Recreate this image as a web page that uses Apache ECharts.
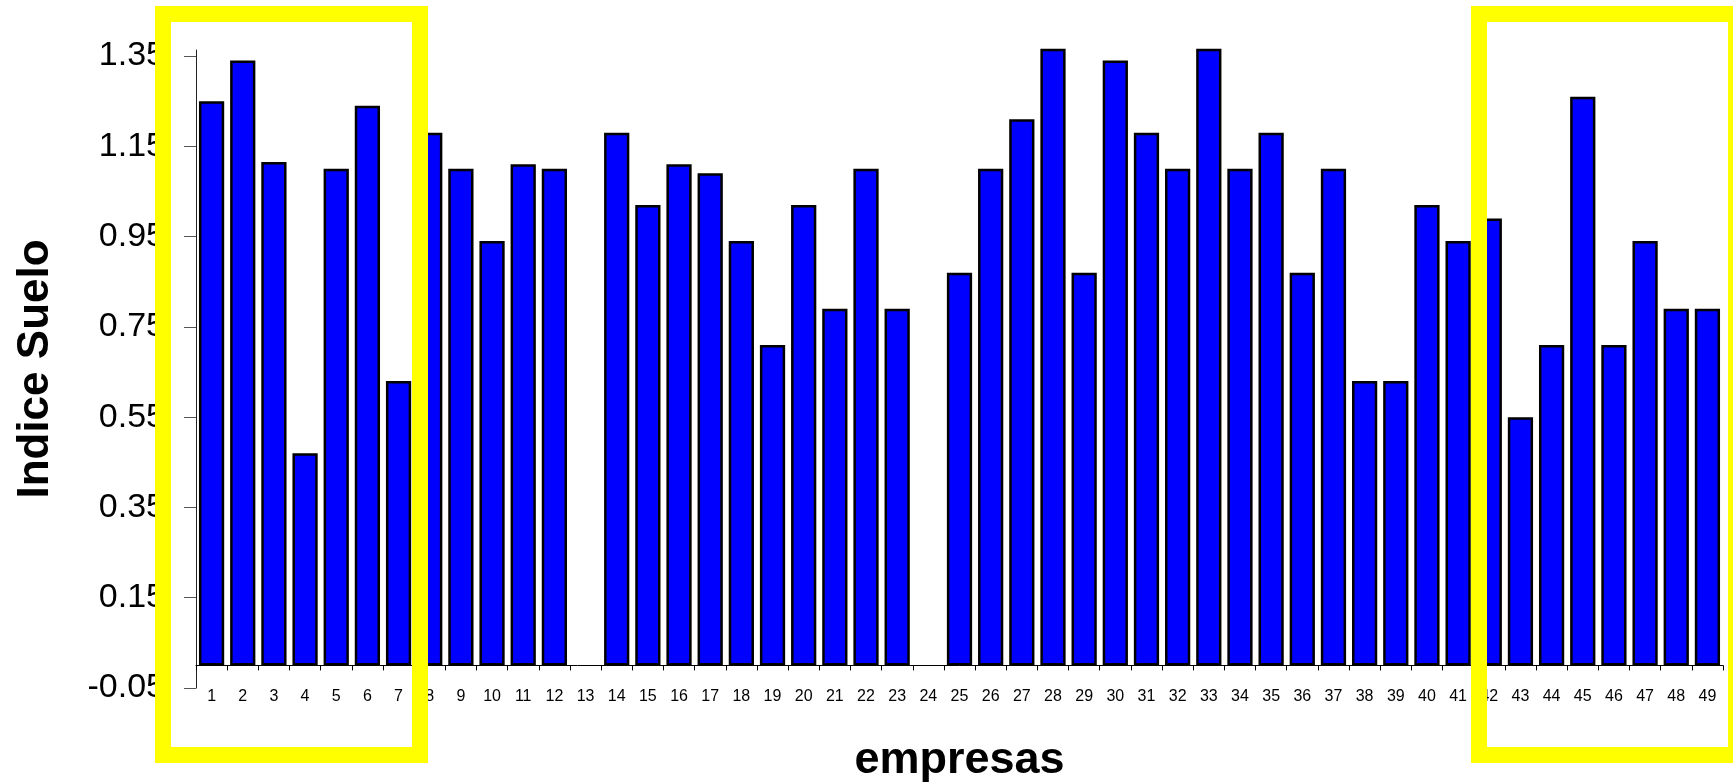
<!DOCTYPE html>
<html>
<head>
<meta charset="utf-8">
<script src="https://cdn.jsdelivr.net/npm/echarts@6/dist/echarts.min.js"></script>
<style>
html,body{margin:0;padding:0;background:#fff;}
#chart{width:1733px;height:783px;}
</style>
</head>
<body>
<div id="chart"></div>
<script>
const categories = ['1','2','3','4','5','6','7','8','9','10','11','12','13','14','15','16','17','18','19','20','21','22','23','24','25','26','27','28','29','30','31','32','33','34','35','36','37','38','39','40','41','42','43','44','45','46','47','48','49'];
const indiceSuelo = [1.25,1.34,1.115,0.47,1.10,1.24,0.63,1.18,1.10,0.94,1.11,1.10,0,1.18,1.02,1.11,1.09,0.94,0.71,1.02,0.79,1.10,0.79,0,0.87,1.10,1.21,1.40,0.87,1.34,1.18,1.10,1.40,1.10,1.18,0.87,1.10,0.63,0.63,1.02,0.94,0.99,0.55,0.71,1.26,0.71,0.94,0.79,0.79];
const yTickValues = [-0.05,0.15,0.35,0.55,0.75,0.95,1.15,1.35];
const yMin = -0.05;
const yMax = 1.3633;
const xTitle = 'empresas';
const yTitle = 'Indice Suelo';

const FONT = '"Liberation Sans", Arial, Helvetica, sans-serif';
const seriesData = indiceSuelo.map(v => v === 0 ? {value: v, itemStyle: {borderWidth: 0}} : v);

const chart = echarts.init(document.getElementById('chart'), null, {renderer:'canvas'});
chart.setOption({
  animation: false,
  backgroundColor: '#ffffff',
  grid: {left: 196, right: 10, top: 50, bottom: 95, containLabel: false, outerBoundsMode: 'none'},
  xAxis: {
    type: 'category',
    data: categories,
    name: xTitle,
    nameLocation: 'middle',
    nameGap: 50,
    nameTextStyle: {fontFamily: FONT, fontSize: 45, fontWeight: 'bold', color: '#000'},
    axisLine: {onZero: true, lineStyle: {color: '#000', width: 1}},
    axisTick: {show: true, length: 5, lineStyle: {color: '#000'}},
    axisLabel: {fontFamily: FONT, fontSize: 16, color: '#000', margin: 1, interval: 0},
    splitLine: {show: false}
  },
  yAxis: {
    type: 'value',
    min: yMin,
    max: yMax,
    name: yTitle,
    nameLocation: 'middle',
    nameRotate: 90,
    nameGap: 138,
    nameTextStyle: {fontFamily: FONT, fontSize: 44, fontWeight: 'bold', color: '#000'},
    axisLine: {show: true, onZero: false, lineStyle: {color: '#222', width: 1}},
    axisTick: {show: true, length: 12, customValues: yTickValues, lineStyle: {color: '#555'}},
    axisLabel: {fontFamily: FONT, fontSize: 34, color: '#000', margin: 31,
      customValues: yTickValues, formatter: v => Number(v).toFixed(2)},
    splitLine: {show: false}
  },
  series: [{
    type: 'bar',
    data: seriesData,
    barWidth: '81%',
    clip: true,
    itemStyle: {color: '#0000FF', borderColor: '#000', borderWidth: 2.5},
    emphasis: {disabled: true}
  }],
  graphic: [
    {type: 'rect', z: 100, shape: {x: 163, y: 14, width: 257, height: 741},
      style: {fill: 'none', stroke: '#FFFF00', lineWidth: 16}},
    {type: 'rect', z: 100, shape: {x: 1479, y: 14, width: 257, height: 741},
      style: {fill: 'none', stroke: '#FFFF00', lineWidth: 16}}
  ]
});
</script>
</body>
</html>
